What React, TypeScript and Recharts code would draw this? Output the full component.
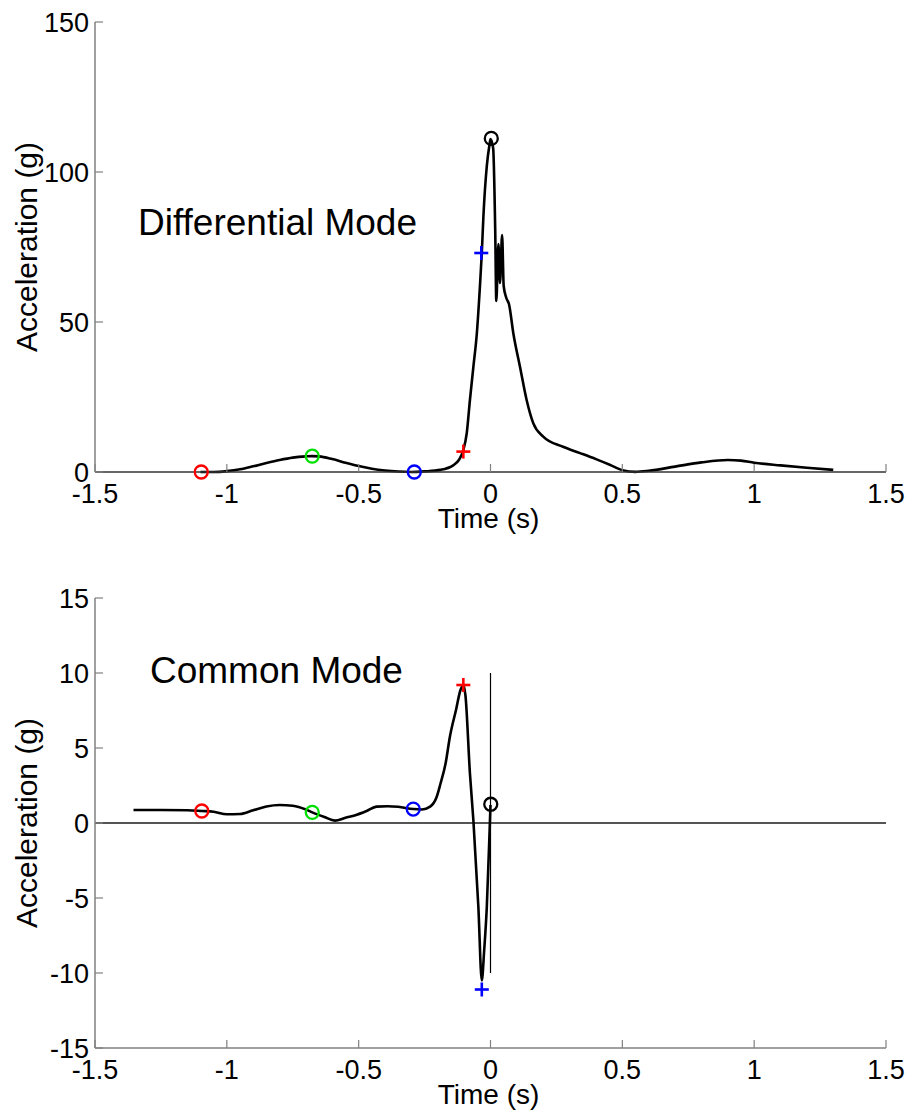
import { ComposedChart, Line, Scatter, XAxis, YAxis, ReferenceLine } from "recharts";

const FONT = '"Liberation Sans", Arial, Helvetica, sans-serif';
const AXIS = "#808080";
const Y_W = 60;
const X_H = 60;

const timeTicks = [-1.5, -1, -0.5, 0, 0.5, 1, 1.5];
const diffTicks = [0, 50, 100, 150];
const commonTicks = [-15, -10, -5, 0, 5, 10, 15];

// differential mode trace
const diffTime = [
  -1.1, -1.05, -1.0, -0.95, -0.9, -0.85, -0.8, -0.75, -0.7, -0.676, -0.65, -0.6, -0.55, -0.5, -0.45,
  -0.4, -0.35, -0.3, -0.25, -0.19, -0.14, -0.12, -0.103, -0.09, -0.078, -0.065, -0.052, -0.04,
  -0.033, -0.027, -0.014, -0.004, 0.0, 0.01, 0.018, 0.022, 0.03, 0.036, 0.044, 0.05, 0.06, 0.07,
  0.087, 0.112, 0.137, 0.162, 0.2, 0.275, 0.34, 0.4, 0.45, 0.5, 0.55, 0.6, 0.7, 0.8, 0.9, 0.95, 1.0,
  1.1, 1.2, 1.3,
];
const diffAccel = [
  0, 0, 0.3, 0.9, 1.9, 3.0, 4.0, 4.8, 5.2, 5.3, 5.2, 4.3, 3.1, 2.0, 1.1,
  0.5, 0.15, 0, 0.2, 0.7, 2.3, 4.0, 7.3, 13, 24, 35, 46, 62,
  73, 85, 102, 109, 111, 108, 80, 57, 76, 63, 79, 62, 58, 56,
  46, 35, 24, 16.3, 11.8, 8.4, 6.3, 4.3, 2.5, 0.6, 0.05, 0.4, 1.8, 3.2, 4.0, 3.8, 3.1,
  2.2, 1.4, 0.7,
];

// common mode trace
const commonTime = [
  -1.354, -1.25, -1.15, -1.095, -1.05, -1.0, -0.95, -0.9, -0.85, -0.8, -0.75, -0.7, -0.676, -0.63,
  -0.59, -0.55, -0.507, -0.47, -0.432, -0.39, -0.35, -0.293, -0.26, -0.229, -0.205, -0.19, -0.17,
  -0.154, -0.13, -0.115, -0.103, -0.095, -0.078, -0.065, -0.046, -0.033, -0.024, -0.014, -0.002, 0.0,
];
const commonAccel = [
  0.87, 0.87, 0.85, 0.8, 0.75, 0.58, 0.6, 0.85, 1.1, 1.2, 1.15, 0.9, 0.71, 0.4,
  0.16, 0.35, 0.55, 0.8, 1.09, 1.12, 1.08, 0.93, 0.9, 1.09, 1.7, 2.6, 4.0,
  5.75, 7.6, 8.8, 9.2, 8.5, 3.3, 0.2, -5.6, -10.5, -8.5, -5.6, 0.2, 1.2,
];
const triggerSpan = [-10, 10];

// event markers, same order in both panels
const markerKinds = ["circle", "circle", "circle", "plus", "plus", "circle"];
const markerColors = ["#ff0000", "#00e000", "#0000ff", "#ff0000", "#0000ff", "#000000"];
const diffMarkTime = [-1.097, -0.676, -0.289, -0.103, -0.035, 0.003];
const diffMarkAccel = [0, 5.3, 0, 6.8, 73, 111.2];
const commonMarkTime = [-1.095, -0.676, -0.293, -0.103, -0.033, 0.001];
const commonMarkAccel = [0.8, 0.71, 0.93, 9.2, -11.1, 1.25];

const toRows = (ts: number[], vs: number[]) => ts.map((t, i) => ({ t, a: vs[i] }));

const XTick = (props: any) => {
  const { x, y, payload } = props;
  return (
    <g>
      <line x1={x} x2={x} y1={y} y2={y - 8} stroke={AXIS} strokeWidth={1.2} />
      <text x={x} y={y + 31} textAnchor="middle" fontFamily={FONT} fontSize={27} fill="#000">
        {payload.value}
      </text>
    </g>
  );
};

const YTick = (props: any) => {
  const { x, y, payload } = props;
  return (
    <g>
      <line x1={x} x2={x + 8} y1={y} y2={y} stroke={AXIS} strokeWidth={1.2} />
      <text x={x - 6} y={y} dy="0.36em" textAnchor="end" fontFamily={FONT} fontSize={27} fill="#000">
        {payload.value}
      </text>
    </g>
  );
};

const yTitle = (props: any) => {
  const { x, y, width, height } = props.viewBox;
  const cx = x + width - 58;
  const cy = y + height / 2;
  return (
    <text x={cx} y={cy} transform={`rotate(-90, ${cx}, ${cy})`} textAnchor="middle" fontFamily={FONT} fontSize={30} fill="#000">
      Acceleration (g)
    </text>
  );
};

const xTitle = (props: any) => {
  const { x, y, width } = props.viewBox;
  return (
    <text x={x + width / 2 - 2} y={y + 56} textAnchor="middle" fontFamily={FONT} fontSize={28} fill="#000">
      Time (s)
    </text>
  );
};

function markerShape(kind: string, color: string) {
  return (p: any) =>
    kind === "circle" ? (
      <circle cx={p.cx} cy={p.cy} r={6.5} fill="none" stroke={color} strokeWidth={2.3} />
    ) : (
      <g stroke={color} strokeWidth={2.6}>
        <line x1={p.cx - 7} x2={p.cx + 7} y1={p.cy} y2={p.cy} />
        <line x1={p.cx} x2={p.cx} y1={p.cy - 7} y2={p.cy + 7} />
      </g>
    );
}

interface PanelProps {
  height: number;
  top: number;
  plotBottom: number;
  domain: [number, number];
  yTicks: number[];
  trace: { t: number; a: number }[];
  marks: { t: number; a: number }[];
  title: string;
  titleX: number;
  titleY: number;
  xAxisColor: string;
  zeroLine?: boolean;
}

function Panel(p: PanelProps) {
  return (
    <ComposedChart
      width={912}
      height={p.height}
      margin={{ top: p.top, right: 26, bottom: p.height - p.plotBottom - X_H, left: 95 - Y_W }}
    >
      <XAxis
        dataKey="t"
        type="number"
        domain={[-1.5, 1.5]}
        ticks={timeTicks}
        height={X_H}
        tickSize={0}
        tickMargin={0}
        tickLine={false}
        axisLine={{ stroke: p.xAxisColor, strokeWidth: 1.5 }}
        tick={XTick}
        interval={0}
        label={xTitle}
      />
      <YAxis
        type="number"
        domain={p.domain}
        ticks={p.yTicks}
        width={Y_W}
        tickSize={0}
        tickMargin={0}
        tickLine={false}
        axisLine={{ stroke: AXIS, strokeWidth: 1.5 }}
        tick={YTick}
        interval={0}
        label={yTitle}
      />
      {p.zeroLine && <ReferenceLine y={0} stroke="#555" strokeWidth={2} />}
      {p.zeroLine && (
        <ReferenceLine
          segment={[
            { x: 0, y: triggerSpan[0] },
            { x: 0, y: triggerSpan[1] },
          ]}
          stroke="#000"
          strokeWidth={1.2}
        />
      )}
      <Line
        data={p.trace}
        dataKey="a"
        type="monotone"
        stroke="#000"
        strokeWidth={2.6}
        dot={false}
        activeDot={false}
        isAnimationActive={false}
      />
      {p.marks.map((m, i) => (
        <Scatter
          key={i}
          data={[m]}
          dataKey="a"
          shape={markerShape(markerKinds[i], markerColors[i])}
          isAnimationActive={false}
        />
      ))}
      <text x={p.titleX} y={p.titleY} fontFamily={FONT} fontSize={37} fill="#000">
        {p.title}
      </text>
    </ComposedChart>
  );
}

export default function App() {
  return (
    <div style={{ position: "absolute", left: 0, top: 0, width: 912, height: 1110, background: "#fff" }}>
      <Panel
        height={545}
        top={22}
        plotBottom={472}
        domain={[0, 150]}
        yTicks={diffTicks}
        trace={toRows(diffTime, diffAccel)}
        marks={toRows(diffMarkTime, diffMarkAccel)}
        title="Differential Mode"
        titleX={138}
        titleY={235}
        xAxisColor="#333"
      />
      <Panel
        height={565}
        top={53}
        plotBottom={1048 - 545}
        domain={[-15, 15]}
        yTicks={commonTicks}
        trace={toRows(commonTime, commonAccel)}
        marks={toRows(commonMarkTime, commonMarkAccel)}
        title="Common Mode"
        titleX={150}
        titleY={683 - 545}
        xAxisColor={AXIS}
        zeroLine
      />
    </div>
  );
}
